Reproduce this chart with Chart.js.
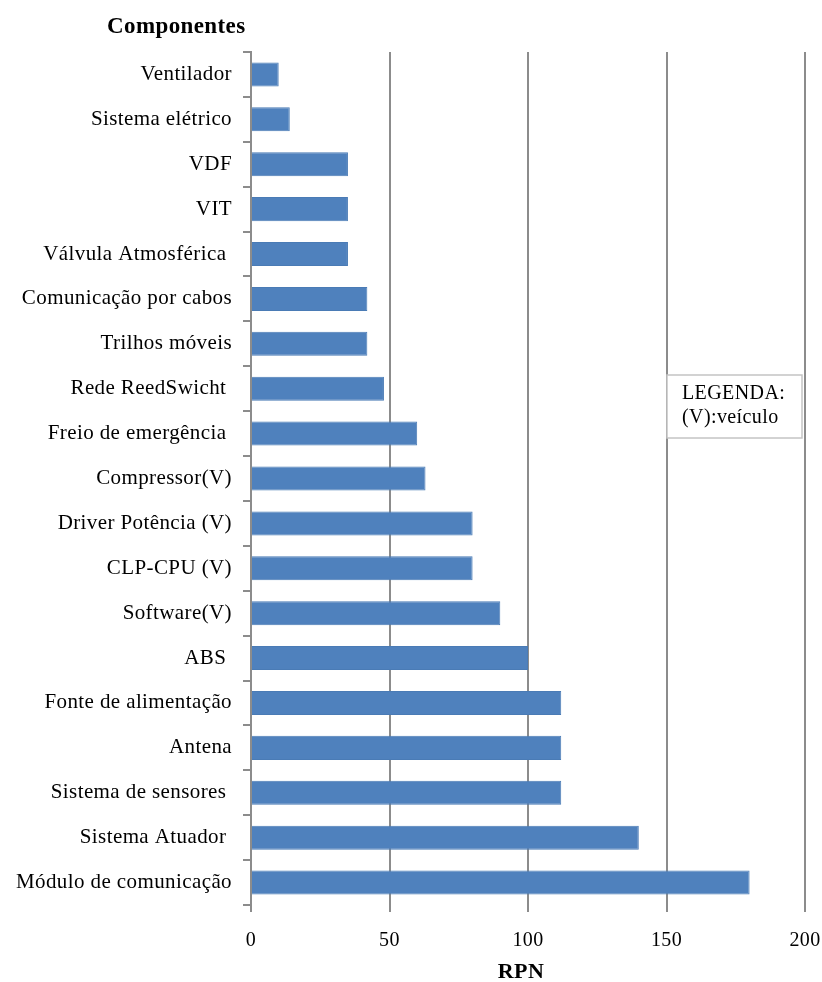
<!DOCTYPE html>
<html>
<head>
<meta charset="utf-8">
<script src="https://cdn.jsdelivr.net/npm/chart.js@4/dist/chart.umd.min.js"></script>
<style>
  html, body { margin: 0; padding: 0; background: #fff; }
  #wrap { width: 822px; height: 982px; position: relative; }
</style>
</head>
<body>
<div id="wrap"><canvas id="rpnChart"></canvas></div>
<script>
const componentes = [
  'Ventilador', 'Sistema elétrico', 'VDF', 'VIT', 'Válvula Atmosférica ',
  'Comunicação por cabos', 'Trilhos móveis', 'Rede ReedSwicht ', 'Freio de emergência ',
  'Compressor(V)', 'Driver Potência (V)', 'CLP-CPU (V)', 'Software(V)', 'ABS ',
  'Fonte de alimentação', 'Antena', 'Sistema de sensores ', 'Sistema Atuador ',
  'Módulo de comunicação'
];
const rpn = [10, 14, 35, 35, 35, 42, 42, 48, 60, 63, 80, 80, 90, 100, 112, 112, 112, 140, 180];
const xTicks = [0, 50, 100, 150, 200];
const legendLines = ['LEGENDA:', '(V):veículo'];

const serif = '"Liberation Serif", "Times New Roman", serif';
const gridGray = '#8c8c8c';

// the source image has loosely spaced text
const spacing = {
  id: 'spacing',
  beforeLayout(chart) { chart.ctx.letterSpacing = '0.4px'; },
  beforeDraw(chart) { chart.ctx.letterSpacing = '0.4px'; },
};

// title, axis name and the little legend box are drawn on top
const extras = {
  id: 'extras',
  afterDraw(chart) {
    const { ctx } = chart;
    ctx.save();
    ctx.fillStyle = '#000';
    ctx.font = `bold 23px ${serif}`;
    ctx.textAlign = 'left';
    ctx.textBaseline = 'middle';
    ctx.fillText('Componentes', 107, 27);

    ctx.font = `bold 22px ${serif}`;
    ctx.textAlign = 'center';
    ctx.fillText('RPN', 521, 972);

    ctx.fillStyle = '#fff';
    ctx.fillRect(667, 375, 135, 63);
    ctx.strokeStyle = '#c4c4c4';
    ctx.lineWidth = 1.5;
    ctx.strokeRect(667, 375, 135, 63);
    ctx.fillStyle = '#000';
    ctx.font = `20px ${serif}`;
    ctx.textAlign = 'left';
    legendLines.forEach((t, i) => ctx.fillText(t, 682, 394 + i * 24));
    ctx.restore();
  }
};

new Chart(document.getElementById('rpnChart'), {
  type: 'bar',
  data: {
    labels: componentes,
    datasets: [{
      data: rpn,
      backgroundColor: '#4f81bd',
      borderColor: '#4a7bb5',
      borderWidth: 1,
      categoryPercentage: 1,
      barPercentage: 0.535,
    }],
  },
  options: {
    indexAxis: 'y',
    responsive: true,
    maintainAspectRatio: false,
    animation: false,
    layout: { padding: { top: 52, right: 17, left: 0, bottom: 0 } },
    plugins: { legend: { display: false }, tooltip: { enabled: false } },
    scales: {
      x: {
        min: 0,
        max: 200,
        afterBuildTicks: s => { s.ticks = xTicks.map(v => ({ value: v })); },
        afterFit: s => { s.height = 77; s.paddingLeft = 0; s.paddingRight = 0; },
        grid: { color: gridGray, lineWidth: 2, tickLength: 7, tickColor: gridGray },
        border: { display: false },
        ticks: { color: '#000', padding: 17, font: { family: serif, size: 20 } },
      },
      y: {
        afterFit: s => { s.width = 251; s.paddingTop = 0; s.paddingBottom = 0; },
        grid: { drawOnChartArea: false, offset: true, tickLength: 8, color: gridGray, lineWidth: 2 },
        border: { color: gridGray, width: 2 },
        ticks: { color: '#000', padding: 11, font: { family: serif, size: 21 }, autoSkip: false },
      },
    },
  },
  plugins: [spacing, extras],
});
</script>
</body>
</html>
